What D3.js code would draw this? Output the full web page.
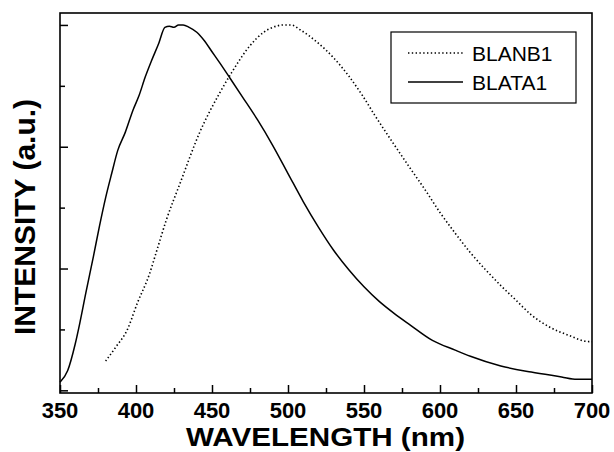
<!DOCTYPE html>
<html>
<head>
<meta charset="utf-8">
<script src="https://cdn.jsdelivr.net/npm/d3@7"></script>
<style>
	body { margin: 0; background: #fff; }
	text { font-family: Arial, "Liberation Sans", sans-serif; fill: #000; }
</style>
</head>
<body>
<div id="graph"></div>
<script>

// BLATA1 (solid)
var ataWave = [350, 355, 360, 363, 367, 372, 376, 380, 384, 388, 393, 398, 402, 406, 410, 415, 419, 422, 425, 428, 431, 435, 440, 445, 450, 455, 462, 470, 480, 490, 500, 510, 520, 530, 540, 550, 560, 570, 580, 595, 610, 620, 640, 660, 680, 690, 700];
var ataValue = [0.066, 0.16, 0.38, 0.55, 0.80, 1.10, 1.35, 1.58, 1.78, 1.97, 2.12, 2.30, 2.42, 2.57, 2.70, 2.85, 2.98, 2.99, 2.98, 3.00, 3.00, 2.98, 2.94, 2.87, 2.78, 2.69, 2.56, 2.41, 2.22, 2.01, 1.78, 1.55, 1.34, 1.15, 0.99, 0.85, 0.73, 0.63, 0.54, 0.41, 0.33, 0.28, 0.20, 0.15, 0.11, 0.09, 0.09];

// BLANB1 (dotted)
var anbWave = [380, 387, 394, 401, 409, 413, 420, 429, 442, 455, 463, 475, 484, 490, 497, 502, 508, 519, 530, 540, 549, 557, 567, 580, 590, 600, 610, 620, 630, 640, 650, 660, 672, 685, 698, 700];
var anbValue = [0.24, 0.36, 0.49, 0.72, 0.96, 1.12, 1.40, 1.70, 2.12, 2.44, 2.61, 2.83, 2.94, 2.98, 3.00, 3.00, 2.96, 2.86, 2.73, 2.58, 2.42, 2.26, 2.07, 1.83, 1.65, 1.46, 1.29, 1.13, 0.99, 0.86, 0.74, 0.62, 0.52, 0.45, 0.40, 0.40];

var xTicks = [350, 400, 450, 500, 550, 600, 650, 700];
var legendNames = ["BLANB1", "BLATA1"];

var width = 614;
var height = 452;
var margin = { top: 13, right: 22, bottom: 59, left: 60 };
var plotW = width - margin.left - margin.right;
var plotH = height - margin.top - margin.bottom;

var svg = d3.select("#graph")
	.append("svg")
	.attr("width", width)
	.attr("height", height);

var x = d3.scaleLinear()
	.domain([350, 700])
	.range([margin.left, margin.left + plotW]);

var y = d3.scaleLinear()
	.domain([-0.022, 3.098])
	.range([margin.top + plotH, margin.top]);

// ticks point inward
var xMajor = d3.axisBottom(x).tickValues(xTicks).tickSize(-8).tickFormat("");
var xMinor = d3.axisBottom(x).tickValues(d3.range(375, 700, 50)).tickSize(-5).tickFormat("");
var yMajor = d3.axisLeft(y).tickValues([0, 1, 2, 3]).tickSize(-8).tickFormat("");
var yMinor = d3.axisLeft(y).tickValues([0.5, 1.5, 2.5]).tickSize(-5).tickFormat("");

[xMajor, xMinor].forEach(function (ax) {
	svg.append("g")
		.attr("transform", "translate(0," + (margin.top + plotH) + ")")
		.call(ax);
});
[yMajor, yMinor].forEach(function (ax) {
	svg.append("g")
		.attr("transform", "translate(" + margin.left + ",0)")
		.call(ax);
});
svg.selectAll(".domain").remove();
svg.selectAll(".tick line").attr("stroke", "#000").attr("stroke-width", 1.5);

svg.append("g")
	.selectAll("text")
	.data(xTicks)
	.enter()
	.append("text")
	.attr("x", (d) => x(d))
	.attr("y", 417.5)
	.attr("text-anchor", "middle")
	.style("font-size", "22px")
	.style("font-weight", "bold")
	.text((d) => d);

var line = d3.line()
	.x((d) => x(d[0]))
	.y((d) => y(d[1]))
	.curve(d3.curveMonotoneX);

svg.append("path")
	.datum(d3.zip(anbWave, anbValue))
	.attr("fill", "none")
	.attr("stroke", "#000")
	.attr("stroke-width", 1.6)
	.attr("stroke-dasharray", "1.4,2.4")
	.attr("d", line);

svg.append("path")
	.datum(d3.zip(ataWave, ataValue))
	.attr("fill", "none")
	.attr("stroke", "#000")
	.attr("stroke-width", 1.5)
	.attr("d", line);

svg.append("rect")
	.attr("x", margin.left)
	.attr("y", margin.top)
	.attr("width", plotW)
	.attr("height", plotH)
	.attr("fill", "none")
	.attr("stroke", "#000")
	.attr("stroke-width", 1.6);

// legend
var legend = svg.append("g");
legend.append("rect")
	.attr("x", 391)
	.attr("y", 32)
	.attr("width", 185)
	.attr("height", 71)
	.attr("fill", "#fff")
	.attr("stroke", "#000")
	.attr("stroke-width", 1.2);

var legendItem = legend.selectAll("g")
	.data(legendNames)
	.enter()
	.append("g")
	.attr("transform", (d, i) => "translate(0," + (53 + i * 29) + ")");

legendItem.append("line")
	.attr("x1", 408)
	.attr("x2", 463)
	.attr("stroke", "#000")
	.attr("stroke-width", 1.4)
	.attr("stroke-dasharray", (d, i) => i === 0 ? "1.4,2.4" : null);

legendItem.append("text")
	.attr("x", 472)
	.attr("y", 8)
	.style("font-size", "21px")
	.text((d) => d);

// wide bold title, stretched to the reference width
svg.append("text")
	.attr("x", 186)
	.attr("y", 446.2)
	.attr("textLength", 279)
	.attr("lengthAdjust", "spacingAndGlyphs")
	.style("font-size", "26.5px")
	.style("font-weight", "bold")
	.text("WAVELENGTH (nm)");

svg.append("text")
	.attr("transform", "translate(35,217) rotate(-90)")
	.attr("text-anchor", "middle")
	.style("font-size", "30px")
	.style("font-weight", "bold")
	.text("INTENSITY (a.u.)");

</script>
</body>
</html>
